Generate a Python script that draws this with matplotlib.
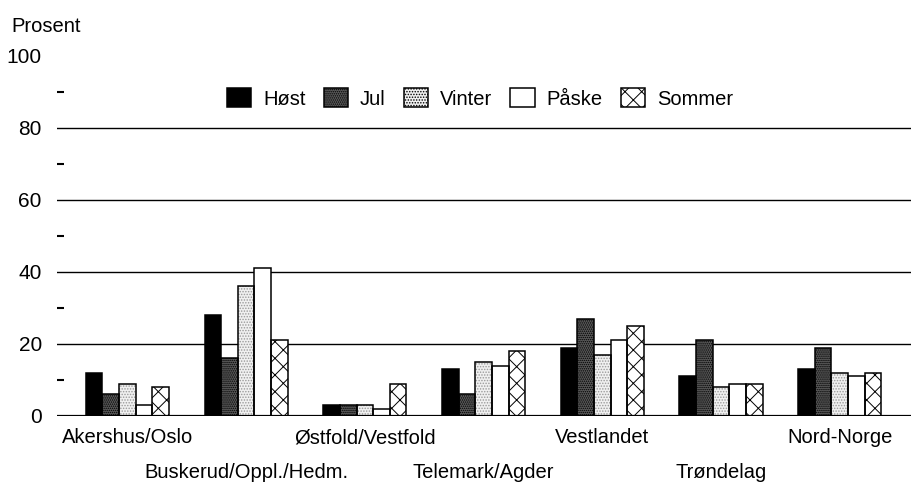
import numpy as np
import matplotlib
matplotlib.use("Agg")
import matplotlib.pyplot as plt
from matplotlib import font_manager
from matplotlib.patches import Patch

# Helvetica Narrow-like look if available, otherwise plain Liberation Sans
navn = set(f.name for f in font_manager.fontManager.ttflist)
if 'Liberation Sans Narrow' in navn:
    plt.rcParams['font.family'] = ['Liberation Sans Narrow', 'DejaVu Sans']
    fs = 16
else:
    plt.rcParams['font.family'] = ['Liberation Sans', 'DejaVu Sans']
    fs = 14.5
plt.rcParams['hatch.linewidth'] = 0.7

# data
regioner = ["Akershus/Oslo", "Buskerud/Oppl./Hedm.", "Østfold/Vestfold",
            "Telemark/Agder", "Vestlandet", "Trøndelag", "Nord-Norge"]
serier = ["Høst", "Jul", "Vinter", "Påske", "Sommer"]
host = [12, 28, 3, 13, 19, 11, 13]
jul = [6, 16, 3, 6, 27, 21, 19]
vinter = [9, 36, 3, 15, 17, 8, 12]
paske = [3, 41, 2, 14, 21, 9, 11]
sommer = [8, 21, 9, 18, 25, 9, 12]
verdier = [host, jul, vinter, paske, sommer]

# style per serie
farger = ['black', '#5a5a5a', '#f0f0f0', 'white', 'white']
hatches = [None, '........', '......', None, 'xx']
hfarge = ['black', 'black', '#9a9a9a', 'black', 'black']

fig = plt.figure(figsize=(9.11, 4.84), dpi=100)
ax = fig.add_axes([0.0626, 0.1405, 0.9374, 0.7438])

x = np.arange(len(regioner))
bw = 0.14
for i in range(len(serier)):
    pos = x + (i - 2) * bw
    # fill + hatch
    ax.bar(pos, verdier[i], bw, color=farger[i], edgecolor=hfarge[i],
           linewidth=0, hatch=hatches[i], zorder=3)
    # outline
    ax.bar(pos, verdier[i], bw, fill=False, edgecolor='black',
           linewidth=1.1, zorder=3.5)

# legend handles
handles = []
for i in range(len(serier)):
    handles.append(Patch(facecolor=farger[i], edgecolor='black', linewidth=1.1,
                         hatch=hatches[i], label=serier[i]))

# gridlines
for g in [20, 40, 60, 80]:
    ax.axhline(g, color='black', lw=1.0, zorder=1)
ax.axhline(0, color='black', lw=1.6, zorder=4)

ax.set_xlim(-0.593, 6.6)
ax.set_ylim(0, 100)
for s in ax.spines.values():
    s.set_visible(False)

ax.set_yticks([0, 20, 40, 60, 80, 100])
ax.set_yticks([10, 30, 50, 70, 90], minor=True)
ax.tick_params(axis='y', which='major', length=0, pad=11, labelsize=fs + 0.5)
ax.tick_params(axis='y', which='minor', direction='in', length=5, width=1.5)
ax.set_xticks([])

# kategori-etiketter i to rader
for i, r in enumerate(regioner):
    yy = -0.061 if i % 2 == 0 else -0.156
    ax.text(x[i], yy, r, transform=ax.get_xaxis_transform(), ha='center',
            va='center', fontsize=fs)

fig.text(0.013, 0.946, "Prosent", fontsize=fs, va='center', ha='left')

fig.legend(handles=handles, loc='center', bbox_to_anchor=(0.527, 0.797), ncol=5,
           frameon=False, fontsize=fs, handlelength=1.2, handleheight=1.1,
           columnspacing=0.9, handletextpad=0.6, borderaxespad=0)

fig.savefig("out.png", dpi=100)
